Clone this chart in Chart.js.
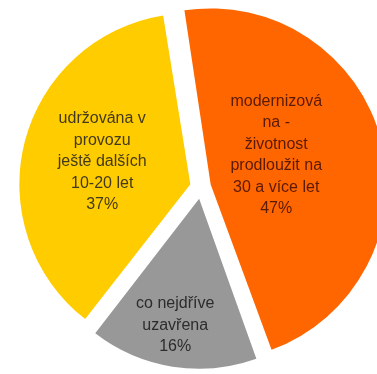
<!DOCTYPE html>
<html lang="cs">
<head>
  <meta charset="UTF-8" />
  <title>Budoucnost elektrárny</title>
  <script src="https://cdn.jsdelivr.net/npm/chart.js"></script>
  <style>
    html, body { margin: 0; padding: 0; background: #fff; }
    #wrap { width: 377px; height: 374px; }
  </style>
</head>
<body>
  <div id="wrap"><canvas id="kolac"></canvas></div>

  <script>
    // kategorie (po řádcích, jak jsou zalomené v popiscích)
    const kategorie = [
      ['modernizová', 'na -', 'životnost', 'prodloužit na', '30 a více let'],
      ['co nejdříve', 'uzavřena'],
      ['udržována v', 'provozu', 'ještě dalších', '10-20 let']
    ];
    // podíly v %
    const podily = [47, 16, 37];

    const barvy = ['#ff6600', '#989898', '#ffcc00'];
    const barvyTextu = ['#5a1a04', '#2c2c2c', '#43391c'];
    // umístění popisku uvnitř výseče: r = podíl poloměru, t = poloha v úhlu výseče
    const umisteni = [{ r: 0.38, t: 0.435 }, { r: 0.756, t: 0.53 }, { r: 0.524, t: 0.5 }];

    const popisky = {
      id: 'popisky',
      afterDatasetsDraw(chart) {
        const ctx = chart.ctx;
        const meta = chart.getDatasetMeta(0);
        ctx.save();
        ctx.font = '16px "Liberation Sans", Arial, sans-serif';
        ctx.textAlign = 'center';
        ctx.textBaseline = 'middle';
        meta.data.forEach((arc, i) => {
          const p = arc.getProps(['x', 'y', 'startAngle', 'endAngle', 'outerRadius', 'circumference'], true);
          const stred = (p.startAngle + p.endAngle) / 2;
          // stejný posun, jaký dělá ArcElement při vysunutí výseče
          const o = (arc.options.offset || 0) / 4;
          const posun = o + o * (1 - Math.sin(Math.min(Math.PI, p.circumference)));
          const cx = p.x + Math.cos(stred) * posun;
          const cy = p.y + Math.sin(stred) * posun;
          const u = p.startAngle + umisteni[i].t * (p.endAngle - p.startAngle);
          const x = cx + Math.cos(u) * umisteni[i].r * p.outerRadius;
          const y = cy + Math.sin(u) * umisteni[i].r * p.outerRadius;
          const radky = kategorie[i].concat([podily[i] + '%']);
          const vyska = 21.5;
          ctx.fillStyle = barvyTextu[i];
          radky.forEach((t, k) => {
            ctx.fillText(t, x, y + (k - (radky.length - 1) / 2) * vyska);
          });
        });
        ctx.restore();
      }
    };

    new Chart(document.getElementById('kolac'), {
      type: 'pie',
      data: {
        labels: kategorie.map(k => k.join(' ')),
        datasets: [{
          data: podily,
          backgroundColor: barvy,
          borderWidth: 0,
          offset: [40, 48, 44],
          hoverOffset: 0,
          clip: false
        }]
      },
      options: {
        responsive: true,
        maintainAspectRatio: false,
        animation: false,
        rotation: -9,
        radius: 168,
        layout: { padding: { left: 25 } },
        plugins: {
          legend: { display: false },
          tooltip: { enabled: false }
        }
      },
      plugins: [popisky]
    });
  </script>
</body>
</html>
